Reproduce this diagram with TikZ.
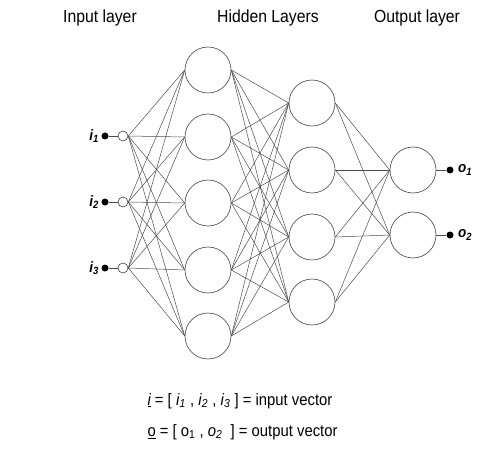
\documentclass[tikz,border=0pt]{standalone}
\usepackage{fontspec}
\setmainfont{Liberation Sans}[FakeStretch=0.9]
\usepackage{tikz}
\usetikzlibrary{positioning,calc}

\begin{document}
\begin{tikzpicture}[x=1pt,y=-1pt,
  neuron/.style={circle,draw=black!75,line width=0.6pt,minimum size=46pt,inner sep=0pt},
  innode/.style={circle,draw=black!75,line width=0.6pt,fill=white,minimum size=10pt,inner sep=0pt},
  dot/.style={circle,fill=black,minimum size=7pt,inner sep=0pt},
  wire/.style={draw=black!70,line width=0.5pt},
  ttl/.style={font=\fontsize{17.5}{20}\selectfont},
  vec/.style={font=\fontsize{16.5}{19}\selectfont},
  lbl/.style={font=\fontsize{15}{17}\selectfont\bfseries\itshape,inner sep=1pt}
]
\useasboundingbox (0,0) rectangle (502,462);

% Titel
\node[ttl] (tin)  at (100,18) {Input layer};
\node[ttl] (thid) at (268,18) {Hidden Layers};
\node[ttl] (tout) at (417,18) {Output layer};

% Hidden layers
\foreach \k/\y in {1/70,2/137,3/203,4/270,5/336}
  \node[neuron] (ha\k) at (208,\y) {};
\foreach \k/\y in {1/103,2/170,3/237,4/302}
  \node[neuron] (hb\k) at (312,\y) {};

% Output layer
\foreach \k/\y in {1/170,2/235}{
  \node[neuron] (out\k) at (413,\y) {};
  \node[dot] (od\k) at (450,\y) {};
  \node[lbl,anchor=west] (ol\k) at (457,\y) {o\textsubscript{\k}};
  \draw[wire] (out\k.east) -- (od\k);
}

% Input layer
\foreach \k/\y in {1/136,2/202,3/268}{
  \node[dot] (id\k) at (105,\y) {};
  \node[innode] (in\k) at (123,\y) {};
  \node[lbl,anchor=east] (il\k) at (100,\y) {i\textsubscript{\k}};
  \draw[wire] (id\k) -- (in\k.west);
}

% Verbindungen
\foreach \a in {1,2,3}
  \foreach \b in {1,...,5}
    \draw[wire] (in\a.east) -- (ha\b.west);
\foreach \a in {1,...,5}
  \foreach \b in {1,...,4}
    \draw[wire] (ha\a.east) -- (hb\b.west);
\foreach \a in {1,...,4}
  \foreach \b in {1,2}
    \draw[wire] (hb\a.east) -- (out\b.west);

% Vektoren
\node[vec,anchor=west] (vin) at (144,401)
  {\underline{\itshape i} = [ \textit{i}\textsubscript{\itshape 1} , \textit{i}\textsubscript{\itshape 2} , \textit{i}\textsubscript{\itshape 3} ] = input vector};
\node[vec,anchor=west] (vout) at (144,432)
  {\underline{o} = [ o\textsubscript{1} , \textit{o}\textsubscript{\itshape 2}\ \ ] = output vector};
\end{tikzpicture}
\end{document}
